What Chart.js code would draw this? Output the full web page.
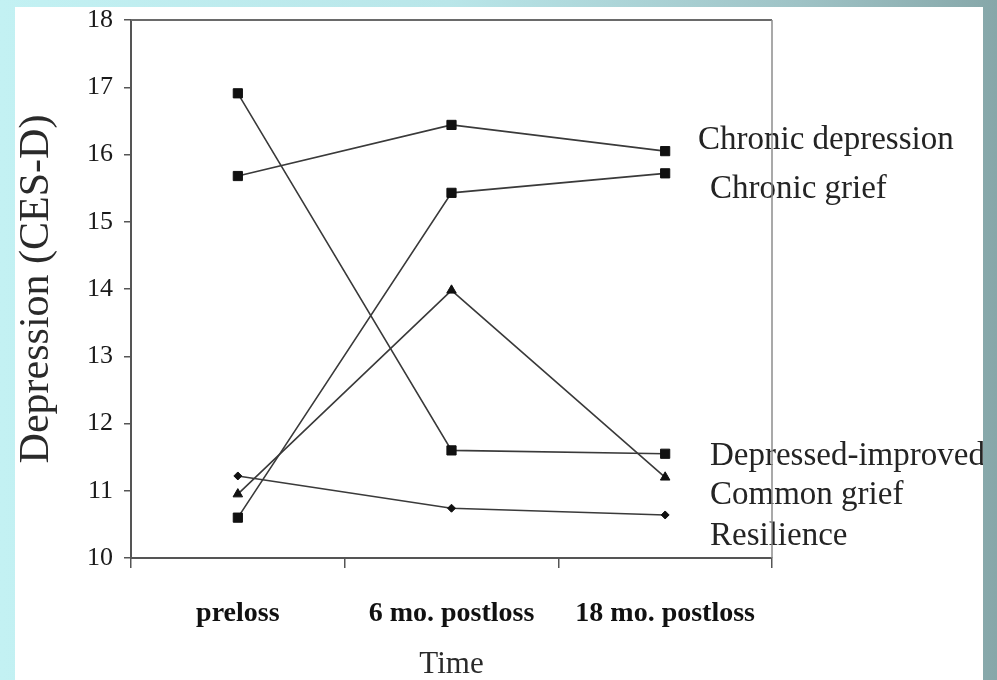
<!DOCTYPE html>
<html>
<head>
<meta charset="utf-8">
<script src="https://cdn.jsdelivr.net/npm/chart.js@4.4.1/dist/chart.umd.min.js"></script>
<style>
  html, body { margin: 0; padding: 0; }
  body {
    width: 997px;
    height: 680px;
    overflow: hidden;
    position: relative;
    background: linear-gradient(to right, #c3f1f3 0%, #b9e6e9 45%, #9fc3c6 80%, #86a7a9 100%);
  }
  #panel {
    position: absolute;
    left: 15px;
    top: 7px;
    width: 968px;
    height: 673px;
    background: #ffffff;
  }
</style>
</head>
<body>
<div id="panel">
  <canvas id="myChart" width="968" height="673"></canvas>
</div>
<script>
'use strict';

// categories on the x axis
var timeLabels = ['preloss', '6 mo. postloss', '18 mo. postloss'];

// y axis tick range
var yMin = 10;
var yMax = 18;

// series names (also used for the labels at the right)
var seriesNames = ['Chronic depression', 'Chronic grief', 'Depressed-improved', 'Common grief', 'Resilience'];

// series values
var chronicDepression = [15.68, 16.44, 16.05];
var chronicGrief = [10.60, 15.43, 15.72];
var depressedImproved = [16.91, 11.60, 11.55];
var commonGrief = [10.95, 13.98, 11.20];
var resilience = [11.22, 10.74, 10.64];

var seriesValues = [chronicDepression, chronicGrief, depressedImproved, commonGrief, resilience];

// marker shapes for each series
var markerStyles = ['rect', 'rect', 'rect', 'triangle', 'rectRot'];
var markerSizes = [6.5, 6.5, 6.5, 5.5, 4];

var serif = "'Liberation Serif', 'Times New Roman', serif";

// label offsets at the right (pixels from chart area right, pixels from last point)
var labelOffsets = [
  { dx: -74, dy: -11 },
  { dx: -62, dy: 16 },
  { dx: -62, dy: 3 },
  { dx: -62, dy: 18 },
  { dx: -62, dy: 21 }
];

// build datasets from the arrays above
function makeDatasets() {
  var sets = [];
  for (var i = 0; i < seriesNames.length; i++) {
    sets.push({
      label: seriesNames[i],
      data: seriesValues[i],
      borderColor: '#3a3a3a',
      backgroundColor: '#111111',
      borderWidth: 1.6,
      pointStyle: markerStyles[i],
      pointRadius: markerSizes[i],
      pointBorderWidth: 1,
      pointBorderColor: '#111111',
      tension: 0
    });
  }
  return sets;
}

// top line of the plot frame
var frameTop = {
  id: 'frameTop',
  beforeDatasetsDraw: function (chart) {
    var ctx = chart.ctx;
    var area = chart.chartArea;
    ctx.save();
    ctx.strokeStyle = '#6a6a6a';
    ctx.lineWidth = 2;
    ctx.beginPath();
    ctx.moveTo(area.left, area.top);
    ctx.lineTo(area.right, area.top);
    ctx.stroke();
    ctx.restore();
  }
};

// series names written next to the last points, right frame line over them
var endLabels = {
  id: 'endLabels',
  afterDatasetsDraw: function (chart) {
    var ctx = chart.ctx;
    var area = chart.chartArea;
    ctx.save();
    ctx.font = '33px ' + serif;
    ctx.fillStyle = '#242424';
    ctx.textAlign = 'left';
    ctx.textBaseline = 'middle';
    for (var i = 0; i < seriesNames.length; i++) {
      var meta = chart.getDatasetMeta(i);
      var last = meta.data[meta.data.length - 1];
      ctx.fillText(seriesNames[i], area.right + labelOffsets[i].dx, last.y + labelOffsets[i].dy);
    }
    ctx.strokeStyle = '#8c8c8c';
    ctx.lineWidth = 1.5;
    ctx.beginPath();
    ctx.moveTo(area.right, area.top);
    ctx.lineTo(area.right, area.bottom);
    ctx.stroke();
    ctx.restore();
  }
};

// function to make chart
function makeChart() {
  var ctx = document.getElementById('myChart').getContext('2d');
  var chart = new Chart(ctx, {
    type: 'line',
    data: {
      labels: timeLabels,
      datasets: makeDatasets()
    },
    options: {
      responsive: false,
      animation: false,
      devicePixelRatio: 1,
      layout: {
        padding: { left: 0, top: 13, right: 211, bottom: 0 }
      },
      plugins: {
        legend: { display: false },
        tooltip: { enabled: false }
      },
      scales: {
        x: {
          type: 'category',
          offset: true,
          grid: {
            offset: true,
            drawOnChartArea: false,
            tickLength: 10,
            color: '#555555',
            lineWidth: 1.5
          },
          border: { color: '#555555', width: 2 },
          ticks: {
            color: '#111111',
            padding: 29,
            maxRotation: 0,
            font: { family: serif, size: 28, weight: 'bold' }
          },
          title: {
            display: true,
            text: 'Time',
            color: '#2a2a2a',
            font: { family: serif, size: 31, lineHeight: 1 },
            padding: { top: 0, bottom: 0 }
          },
          afterFit: function (scale) {
            scale.height = 122;
            scale.paddingLeft = 0;
            scale.paddingRight = 0;
          }
        },
        y: {
          min: yMin,
          max: yMax,
          grid: {
            drawOnChartArea: false,
            tickLength: 7,
            color: '#555555',
            lineWidth: 1.5
          },
          border: { color: '#555555', width: 2 },
          ticks: {
            stepSize: 1,
            color: '#1a1a1a',
            padding: 11,
            font: { family: serif, size: 26 }
          },
          title: {
            display: true,
            text: 'Depression (CES-D)',
            color: '#2a2a2a',
            font: { family: serif, size: 42, lineHeight: 1 },
            padding: { top: 1, bottom: 0 }
          },
          afterFit: function (scale) {
            scale.width = 116;
            scale.paddingTop = 0;
            scale.paddingBottom = 0;
          }
        }
      }
    },
    plugins: [frameTop, endLabels]
  });
  return chart;
}

makeChart();
</script>
</body>
</html>
